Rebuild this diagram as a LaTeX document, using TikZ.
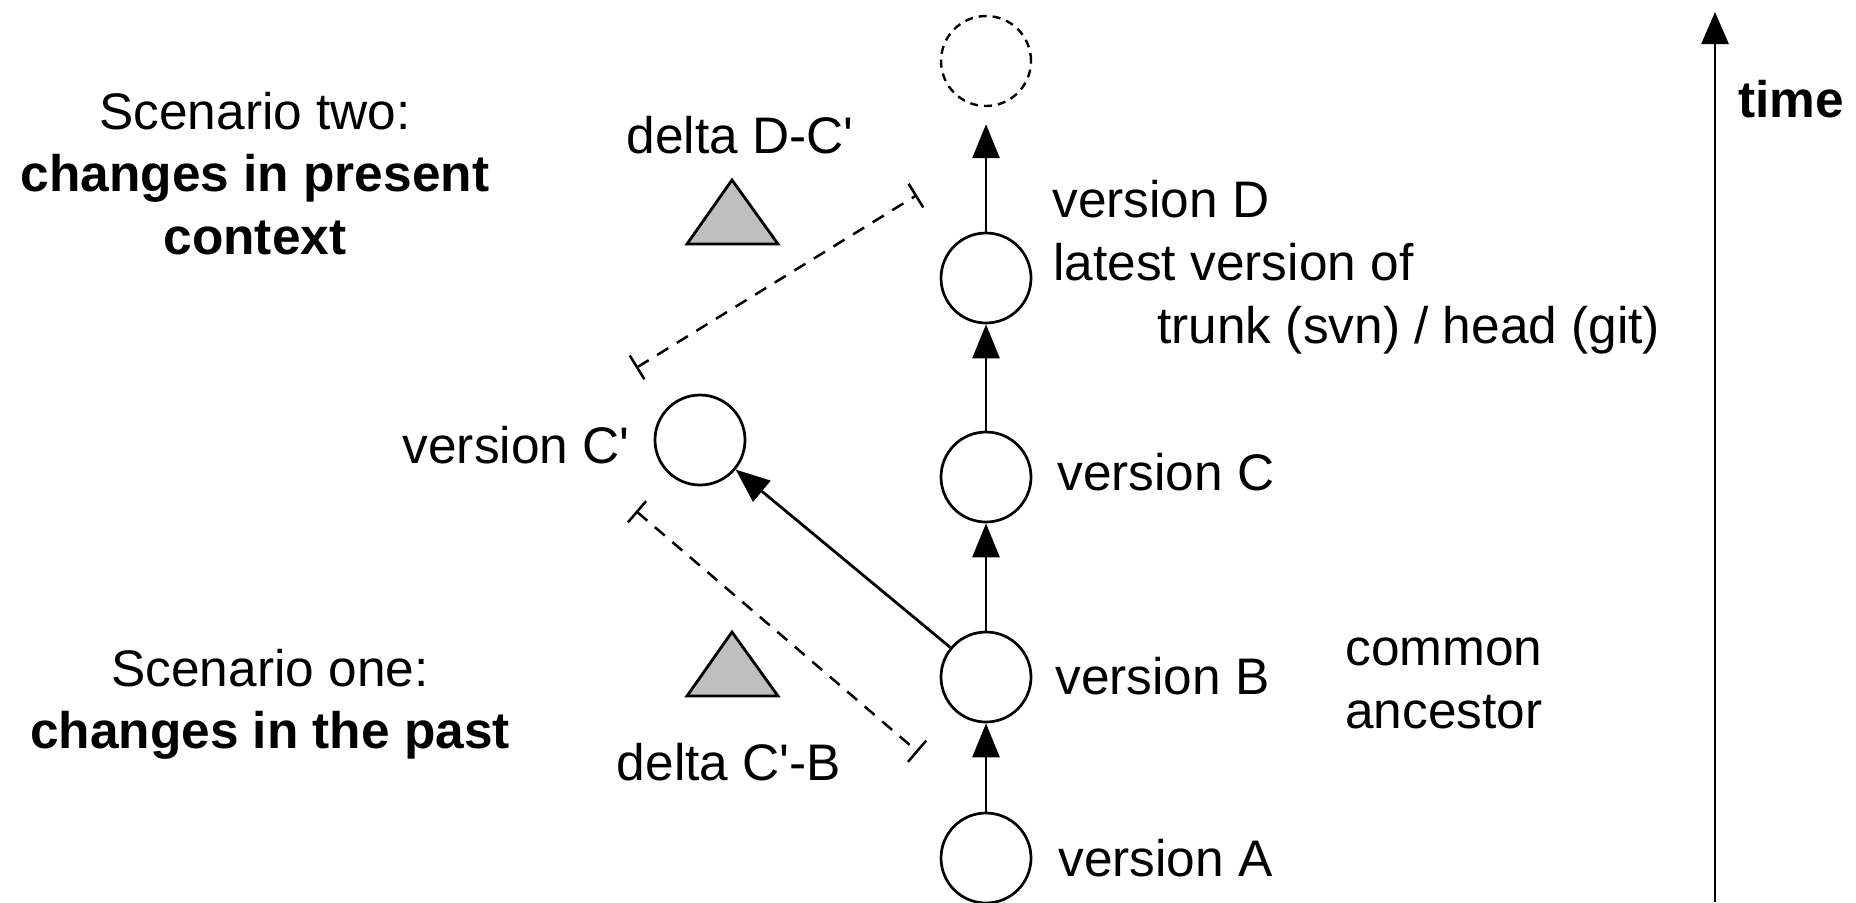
\documentclass[tikz,border=0pt]{standalone}
\usepackage{fontspec}
\setmainfont{Liberation Sans}
\usetikzlibrary{arrows.meta}
\begin{document}
\begin{tikzpicture}[x=0.5pt,y=-0.5pt,
  every node/.style={font=\fontsize{25.7pt}{31.5pt}\selectfont, inner sep=0pt},
  lbl/.style={anchor=base west},
  clbl/.style={anchor=base},
  rlbl/.style={anchor=base east},
  vnode/.style={circle, draw, line width=1.35pt, minimum size=45pt, fill=white},
  future/.style={circle, draw, line width=1.2pt, minimum size=45pt, dash pattern=on 4pt off 3pt},
  flow/.style={line width=1.4pt, -{Triangle[length=17pt,width=13.5pt]}},
  span/.style={line width=1.25pt, dash pattern=on 6.5pt off 5pt, {Bar[width=14pt]}-{Bar[width=14pt]}},
  delta/.style={draw, line width=1.4pt, fill=gray!50, line join=miter}
]
\useasboundingbox (0,0) rectangle (1856,902);

% version nodes
\node[future] (F) at (986,61) {};
\node[vnode] (D) at (986,278) {};
\node[vnode] (C) at (986,477) {};
\node[vnode] (B) at (986,677) {};
\node[vnode] (A) at (986,858) {};
\node[vnode] (Cp) at (700,440) {};

% arrows
\draw[flow] (A) -- (B);
\draw[flow] (B) -- (C);
\draw[flow] (C) -- (D);
\draw[flow, shorten >=8.5pt] (D) -- (F);
\draw[flow] (B) -- (Cp);

% dashed spans
\coordinate (s1a) at (636,368);
\coordinate (s1b) at (917,195);
\coordinate (s2a) at (636,511);
\coordinate (s2b) at (918,752);
\draw[span] (s1a) -- (s1b);
\draw[span] (s2a) -- (s2b);

% delta triangles
\draw[delta] (732,180) -- (778,244) -- (687,244) -- cycle;
\draw[delta] (732,632) -- (778,696) -- (687,696) -- cycle;

% time axis
\coordinate (tbot) at (1715,902);
\coordinate (ttop) at (1715,12);
\draw[line width=1.4pt, -{Triangle[length=16pt,width=13.5pt]}] (tbot) -- (ttop);
\node[lbl] (time) at (1738,117) {\bfseries time};

% labels
\node[clbl] (s2l1) at (255,129) {Scenario two:};
\node[clbl] (s2l2) at (255,191) {\bfseries changes in present};
\node[clbl] (s2l3) at (255,254) {\bfseries context};
\node[clbl] (s1l1) at (270,686) {Scenario one:};
\node[clbl] (s1l2) at (270,748) {\bfseries changes in the past};

\node[clbl] (dDC) at (740,153) {delta D-C\textquotesingle};
\node[clbl] (dCB) at (729,780) {delta C\textquotesingle-B};

\node[rlbl] (lCp) at (630,463) {version C\textquotesingle};
\node[lbl] (lD) at (1052,217) {version D};
\node[lbl] (lD2) at (1053,280) {latest version of};
\node[lbl] (lD3) at (1157,343) {trunk (svn) / head (git)};
\node[lbl] (lC) at (1057,490) {version C};
\node[lbl] (lB) at (1055,694) {version B};
\node[lbl] (lA) at (1058,876) {version A};
\node[lbl] (com1) at (1345,665) {common};
\node[lbl] (com2) at (1345,728) {ancestor};
\end{tikzpicture}
\end{document}
